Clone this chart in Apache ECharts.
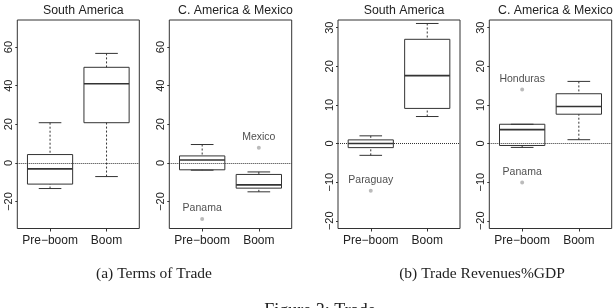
<!DOCTYPE html>
<html>
<head>
<meta charset="utf-8">
<script src="https://cdn.jsdelivr.net/npm/echarts@6/dist/echarts.min.js"></script>
<style>
  html, body { margin: 0; padding: 0; background: #fff; }
  #main { width: 615px; height: 308px; }
</style>
</head>
<body>
<div id="main"></div>
<script>
// box stats per group: [lower whisker, Q1, median, Q3, upper whisker]
const groups = ['Pre\u2212boom', 'Boom'];
const panelTitles = ['South America', 'C. America & Mexico', 'South America', 'C. America & Mexico'];

const totSouth = [[-13.3, -11, -3.1, 4.3, 20.8], [-7.1, 20.8, 41, 49.5, 56.7]];
const totCentral = [[-3.8, -3.6, 1.5, 3.6, 9.5], [-15, -13.1, -11.4, -6, -4.7]];
const revSouth = [[-3.05, -1.05, 0, 0.95, 2.0], [7.0, 9.1, 17.6, 27, 31.1]];
const revCentral = [[-1.0, -0.5, 3.6, 5.0, 5.0], [1.0, 7.6, 9.6, 12.9, 16.1]];

// outliers: [group, value, country]
const totSouthOut = [];
const totCentralOut = [[1, -29.1, 'Panama'], [2, 7.8, 'Mexico']];
const revSouthOut = [[1, -12.2, 'Paraguay']];
const revCentralOut = [[1, 14, 'Honduras'], [1, -10.1, 'Panama']];

const totTicks = [-20, 0, 20, 40, 60];
const revTicks = [-20, -10, 0, 10, 20, 30];

const boxes = [totSouth, totCentral, revSouth, revCentral];
const outs = [totSouthOut, totCentralOut, revSouthOut, revCentralOut];
const ticks = [totTicks, totTicks, revTicks, revTicks];
const yRange = [[-34, 74], [-34, 74], [-22, 32], [-22, 32]];

const gridPos = [
  { left: 17.3, width: 122 },
  { left: 169.3, width: 122.4 },
  { left: 338, width: 122 },
  { left: 489.3, width: 122.4 }
];

const ink = '#333';
const sans = 'Liberation Sans, Arial, sans-serif';

function renderBox(params, api) {
  const x = api.value(0);
  const lo = api.value(1), q1 = api.value(2), med = api.value(3), q3 = api.value(4), hi = api.value(5);
  const tl = api.coord([x - 0.4, q3]);
  const br = api.coord([x + 0.4, q1]);
  const m0 = api.coord([x - 0.4, med]);
  const m1 = api.coord([x + 0.4, med]);
  const top = api.coord([x, hi]);
  const bot = api.coord([x, lo]);
  const c0 = api.coord([x - 0.2, hi]);
  const c1 = api.coord([x + 0.2, hi]);
  const d0 = api.coord([x - 0.2, lo]);
  const d1 = api.coord([x + 0.2, lo]);
  const solid = { stroke: ink, lineWidth: 1, fill: null };
  const dashed = { stroke: ink, lineWidth: 1, lineDash: [2, 2] };
  return {
    type: 'group',
    children: [
      { type: 'line', shape: { x1: top[0], y1: top[1], x2: top[0], y2: tl[1] }, style: dashed },
      { type: 'line', shape: { x1: bot[0], y1: bot[1], x2: bot[0], y2: br[1] }, style: dashed },
      { type: 'line', shape: { x1: c0[0], y1: c0[1], x2: c1[0], y2: c1[1] }, style: solid },
      { type: 'line', shape: { x1: d0[0], y1: d0[1], x2: d1[0], y2: d1[1] }, style: solid },
      { type: 'rect', shape: { x: tl[0], y: tl[1], width: br[0] - tl[0], height: br[1] - tl[1] }, style: solid },
      { type: 'line', shape: { x1: m0[0], y1: m0[1], x2: m1[0], y2: m1[1] }, style: { stroke: ink, lineWidth: 1.6 } }
    ]
  };
}

const grid = [], xAxis = [], yAxis = [], series = [], title = [];

for (let i = 0; i < 4; i++) {
  grid.push({
    left: gridPos[i].left, width: gridPos[i].width, top: 20, height: 208.5,
    show: true, borderColor: ink, borderWidth: 1, backgroundColor: 'transparent'
  });
  xAxis.push({
    type: 'value', gridIndex: i, min: 0.42, max: 2.58,
    axisLine: { show: false, onZero: false },
    splitLine: { show: false },
    axisTick: { show: true, customValues: [1, 2], length: 3, lineStyle: { color: ink } },
    axisLabel: {
      customValues: [1, 2], margin: 6, color: '#222', fontFamily: sans, fontSize: 12,
      formatter: v => groups[Math.round(v) - 1]
    }
  });
  yAxis.push({
    type: 'value', gridIndex: i, min: yRange[i][0], max: yRange[i][1],
    axisLine: { show: false, onZero: false },
    splitLine: { show: false },
    axisTick: { show: true, customValues: ticks[i], length: 2, lineStyle: { color: ink } },
    axisLabel: {
      customValues: ticks[i], rotate: 90, margin: 3, color: '#222', fontFamily: sans, fontSize: 11,
      formatter: v => String(v).replace('-', '\u2212')
    }
  });
  series.push({
    type: 'custom', xAxisIndex: i, yAxisIndex: i,
    renderItem: renderBox,
    data: boxes[i].map((d, k) => [k + 1].concat(d)),
    markLine: {
      silent: true, symbol: 'none', label: { show: false },
      lineStyle: { color: ink, width: 1, type: [1, 1] },
      data: [{ yAxis: 0 }]
    }
  });
  series.push({
    type: 'scatter', xAxisIndex: i, yAxisIndex: i,
    symbol: 'emptyCircle', symbolSize: 2,
    itemStyle: { color: '#aaa', borderColor: '#aaa' },
    label: {
      show: true, position: 'top', distance: 3, formatter: p => p.value[2],
      color: '#222', fontFamily: sans, fontSize: 10.5
    },
    data: outs[i]
  });
  title.push({
    text: panelTitles[i],
    left: gridPos[i].left + gridPos[i].width / 2, top: 0, textAlign: 'center',
    textStyle: { fontFamily: sans, fontSize: 12.3, fontWeight: 'normal', color: '#222' }
  });
}

const serif = 'Liberation Serif, DejaVu Serif, serif';
title.push(
  { text: '(a) Terms of Trade', left: 149, top: 261, textAlign: 'center',
    textStyle: { fontFamily: serif, fontSize: 15.5, fontWeight: 'normal', color: '#222' } },
  { text: '(b) Trade Revenues%GDP', left: 477, top: 261, textAlign: 'center',
    textStyle: { fontFamily: serif, fontSize: 15.5, fontWeight: 'normal', color: '#222' } },
  { text: 'Figure 3: Trade', left: 315, top: 297, textAlign: 'center',
    textStyle: { fontFamily: serif, fontSize: 18, fontWeight: 'normal', color: '#222' } }
);

const chart = echarts.init(document.getElementById('main'), null, { renderer: 'canvas' });
chart.setOption({
  animation: false,
  backgroundColor: '#fff',
  title: title,
  grid: grid,
  xAxis: xAxis,
  yAxis: yAxis,
  series: series
});
</script>
</body>
</html>
